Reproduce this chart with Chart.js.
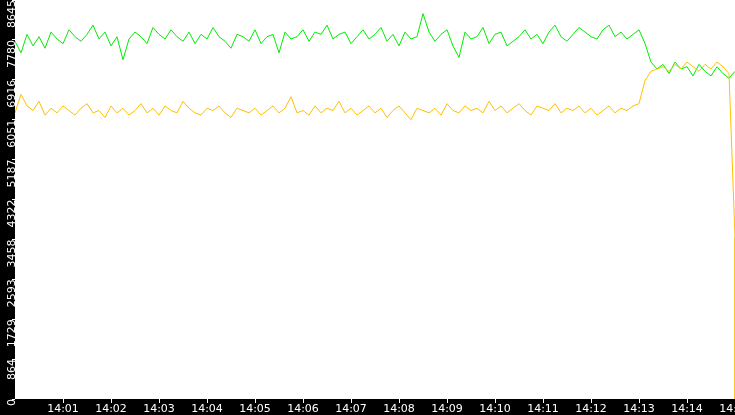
<!DOCTYPE html>
<html><head><meta charset="utf-8">
<script src="https://cdn.jsdelivr.net/npm/chart.js@4/dist/chart.umd.min.js"></script>
<style>html,body{margin:0;padding:0;background:#000;}#w{width:735px;height:415px;}</style>
</head><body><div id="w"><canvas id="c"></canvas></div>
<script>
const stepSeconds = 7.5;
const xTickSeconds = [60,120,180,240,300,360,420,480,540,600,660,720,780,840,900];
const xTickLabels = ['14:01','14:02','14:03','14:04','14:05','14:06','14:07','14:08','14:09','14:10','14:11','14:12','14:13','14:14','14:15'];
const yTickValues = [0,864,1729,2593,3458,4322,5187,6051,6916,7780,8645];
const yTickLabels = ['0','864','1729','2593','3458','4322','5187','6051','6916','7780','8645'];
const greenValues = [
7750,7500,7900,7650,7850,7600,7950,7800,7700,8000,
7850,7750,7900,8100,7800,7950,7650,7850,7350,7800,
7950,7850,7700,8050,7900,7800,8000,7850,7750,7950,
7700,7900,7800,8050,7850,7750,7600,7900,7850,7750,
8000,7700,7850,7900,7500,7950,7800,7850,8000,7750,
7950,7900,8100,7800,7900,7950,7700,7850,8000,7800,
7900,8050,7750,7900,7650,7950,7800,7850,8350,7950,
7750,7900,8000,7650,7400,7950,7800,7850,8050,7700,
7900,7950,7650,7750,7850,8000,7800,7900,7700,7950,
8100,7850,7750,7900,8050,7950,7850,7800,8000,8100,
7850,7950,7800,7900,8000,7700,7300,7150,7250,7050,
7300,7150,7200,7000,7250,7100,7000,7200,7050,6950,7100];
const goldValues = [
6200,6600,6350,6250,6450,6150,6300,6200,6350,6250,
6150,6300,6400,6200,6250,6100,6350,6200,6300,6150,
6250,6400,6200,6300,6150,6350,6250,6200,6450,6300,
6200,6150,6300,6250,6350,6200,6100,6300,6250,6200,
6300,6150,6250,6350,6200,6300,6550,6200,6250,6150,
6350,6200,6300,6250,6450,6200,6300,6150,6250,6350,
6200,6300,6100,6250,6350,6200,6050,6300,6250,6200,
6300,6150,6400,6250,6200,6350,6250,6300,6200,6450,
6250,6350,6200,6300,6400,6250,6150,6350,6300,6250,
6400,6200,6300,6250,6350,6200,6300,6150,6250,6350,
6200,6300,6250,6350,6400,6900,7100,7150,7200,7100,
7250,7150,7300,7200,7100,7250,7150,7300,7200,7050,3500,0];

const toPts = v => v.map((y,i)=>({x:Math.min(i,120)*stepSeconds,y}));
const whiteArea = {id:'wa',beforeDraw(ch){const a=ch.chartArea,c=ch.ctx;c.save();c.fillStyle='#000';c.fillRect(0,0,ch.width,ch.height);c.fillStyle='#fff';c.fillRect(a.left,a.top,a.right-a.left,a.bottom-a.top);c.restore();}};
const font = {family:'DejaVu Sans', size:11};
new Chart(document.getElementById('c'),{
  type:'line',
  data:{datasets:[
    {data:toPts(goldValues),borderColor:'#ffc000',borderWidth:1,pointRadius:0,tension:0},
    {data:toPts(greenValues),borderColor:'#00ee00',borderWidth:1,pointRadius:0,tension:0}
  ]},
  options:{
    animation:false,responsive:true,maintainAspectRatio:false,
    layout:{padding:0},
    plugins:{legend:{display:false},tooltip:{enabled:false}},
    scales:{
      x:{type:'linear',min:0,max:900,
        afterBuildTicks(s){s.ticks=xTickSeconds.map(v=>({value:v}));},
        afterFit(s){s.height=16;s.paddingLeft=0;s.paddingRight=0;},
        ticks:{color:'#fff',font,padding:0,maxRotation:0,autoSkip:false,
          callback:(v)=>xTickLabels[xTickSeconds.indexOf(v)]},
        grid:{drawOnChartArea:false,color:'#fff',tickLength:4},border:{display:false}},
      y:{min:0,max:8645,
        afterBuildTicks(s){s.ticks=yTickValues.map(v=>({value:v}));},
        afterFit(s){s.width=15;s.paddingTop=0;s.paddingBottom=0;},
        ticks:{color:'#fff',font,padding:0,minRotation:90,maxRotation:90,autoSkip:false,
          callback:(v)=>yTickLabels[yTickValues.indexOf(v)]},
        grid:{drawOnChartArea:false,color:'#fff',tickLength:3},border:{display:false}}
    }
  },
  plugins:[whiteArea]
});
</script></body></html>
